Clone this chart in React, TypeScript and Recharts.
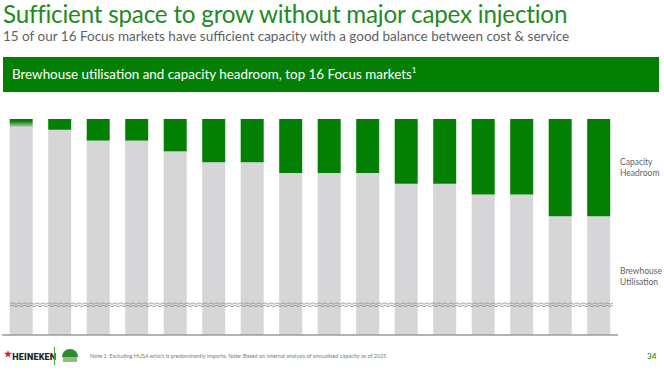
import React from 'react';
import { BarChart, Bar, XAxis, YAxis, Cell, ReferenceLine } from 'recharts';

// 16 focus markets, ordered by headroom (names not shown on the slide)
const markets = [
  'Market 1', 'Market 2', 'Market 3', 'Market 4', 'Market 5', 'Market 6', 'Market 7', 'Market 8',
  'Market 9', 'Market 10', 'Market 11', 'Market 12', 'Market 13', 'Market 14', 'Market 15', 'Market 16',
];
// % of capacity
const headroom = [4, 5, 10, 10, 15, 20, 20, 25, 25, 25, 30, 30, 35, 35, 45, 45];
const utilisation = headroom.map((h) => 100 - h);

const GREEN = '#038003';
const GREY = '#d6d6d8';
const TEXT_GREY = '#5f5f5f';
const FONT = 'Lato, "Open Sans", sans-serif';

const data = markets.map((m, i) => ({
  market: m,
  utilisation: utilisation[i],
  headroom: headroom[i],
}));

// wavy axis-break marker drawn across the plot
const BreakLine = (props: any) => {
  const { x1, x2, y1 } = props;
  const y = y1;
  const start = x1 + 8;
  const end = x2 - 7;
  const step = 3;
  let d1 = `M${start},${y - 1.2}`;
  let d2 = `M${start},${y + 1.2}`;
  for (let x = start, k = 0; x < end; x += step, k++) {
    const off = k % 2 === 0 ? -0.8 : 0.8;
    d1 += ` L${x + step},${y - 1.2 + off}`;
    d2 += ` L${x + step},${y + 1.2 + off}`;
  }
  return (
    <g>
      <path d={d1} stroke="#8a8a8a" strokeWidth={0.8} fill="none" />
      <path d={d2} stroke="#8a8a8a" strokeWidth={0.8} fill="none" />
    </g>
  );
};

export default function App() {
  return (
    <div style={{ position: 'absolute', left: 0, top: 0, width: 664, height: 374, background: '#fff', fontFamily: FONT, overflow: 'hidden' }}>
      <div style={{ position: 'absolute', left: 3, top: -1, fontSize: 24.2, color: '#1f8a1f', whiteSpace: 'nowrap', letterSpacing: -0.2 }}>
        Sufficient space to grow without major capex injection
      </div>
      <div style={{ position: 'absolute', left: 3, top: 28, fontSize: 13.5, color: TEXT_GREY, whiteSpace: 'nowrap' }}>
        15 of our 16 Focus markets have sufficient capacity with a good balance between cost &amp; service
      </div>
      <div style={{ position: 'absolute', left: 3, top: 57, width: 656, height: 35, background: GREEN, color: '#fff', fontSize: 13.4, lineHeight: '35px', paddingLeft: 9, boxSizing: 'border-box', whiteSpace: 'nowrap' }}>
        Brewhouse utilisation and capacity headroom, top 16 Focus markets<sup style={{ fontSize: 8, verticalAlign: 6, lineHeight: 0 }}>1</sup>
      </div>

      <BarChart
        width={664}
        height={374}
        data={data}
        margin={{ top: 119, right: 46, bottom: 38, left: 2 }}
        barCategoryGap="20%"
        style={{ position: 'absolute', left: 0, top: 0 }}
      >
        <defs>
          <linearGradient id="fade" x1="0" y1="0" x2="0" y2="1">
            <stop offset="0%" stopColor={GREEN} />
            <stop offset="25%" stopColor={GREEN} />
            <stop offset="100%" stopColor={GREY} />
          </linearGradient>
        </defs>
        <XAxis dataKey="market" tick={false} tickLine={false} height={1} axisLine={{ stroke: '#9a9a9a', strokeWidth: 1.5 }} />
        <YAxis hide domain={[0, 100]} />
        <Bar dataKey="utilisation" stackId="a" fill={GREY} isAnimationActive={false} />
        <Bar dataKey="headroom" stackId="a" fill={GREEN} isAnimationActive={false}>
          {data.map((d, i) => (
            <Cell key={d.market} fill={i === 0 ? 'url(#fade)' : GREEN} />
          ))}
        </Bar>
        <ReferenceLine y={14} shape={<BreakLine />} ifOverflow="visible" />
      </BarChart>

      <div style={{ position: 'absolute', left: 620, top: 157, fontSize: 8.5, color: TEXT_GREY, lineHeight: '11px' }}>
        Capacity<br />Headroom
      </div>
      <div style={{ position: 'absolute', left: 620, top: 266, fontSize: 8.5, color: TEXT_GREY, lineHeight: '11px' }}>
        Brewhouse<br />Utilisation
      </div>

      {/* footer */}
      <div style={{ position: 'absolute', left: 4, top: 349, fontSize: 9, fontWeight: 900, color: '#1d2b1d', letterSpacing: 0.2, fontFamily: 'Roboto, sans-serif' }}>
        <span style={{ color: '#e0202a', fontSize: 9, verticalAlign: 3 }}>★</span>HEINEKEN
      </div>
      <div style={{ position: 'absolute', left: 54, top: 347, width: 1, height: 18, background: '#4a9a3a' }} />
      <svg style={{ position: 'absolute', left: 60, top: 345 }} width={20} height={20}>
        <path d="M2,12 A8,8 0 0 1 18,12 Z" fill="#2e8a2e" />
        <rect x={3} y={12} width={14} height={5} fill="#8fbf7f" />
      </svg>
      <div style={{ position: 'absolute', left: 90, top: 353, fontSize: 5.5, color: '#7a7a7a', whiteSpace: 'nowrap' }}>
        Note 1. Excluding HUSA which is predominantly imports; Note: Based on internal analysis of annualised capacity as of 2025
      </div>
      <div style={{ position: 'absolute', left: 647, top: 351, fontSize: 8, fontWeight: 700, color: '#3a9a2a' }}>34</div>
    </div>
  );
}
